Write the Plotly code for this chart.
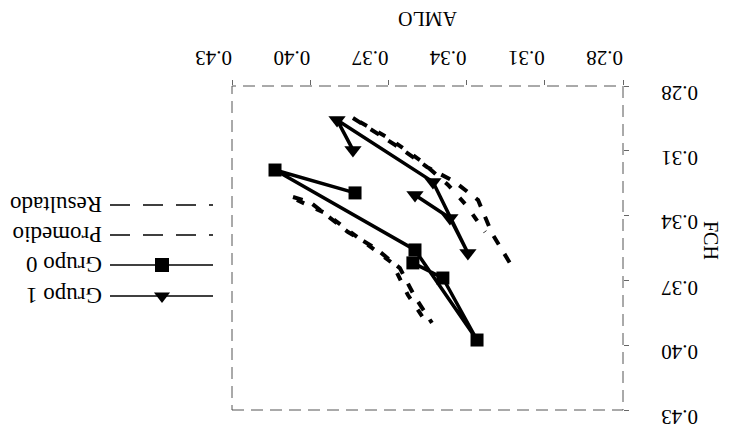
import plotly.graph_objects as go

# ---- data (AMLO on x, FCH on y) ----
tick_vals = [0.28, 0.31, 0.34, 0.37, 0.40, 0.43]
tick_text = ["0.28", "0.31", "0.34", "0.37", "0.40", "0.43"]

g0_amlo = [0.3828, 0.4135, 0.3598, 0.3360, 0.3491, 0.3606]
g0_fch = [0.3295, 0.3189, 0.3559, 0.3976, 0.3689, 0.3619]

g1_amlo = [0.3836, 0.3897, 0.3529, 0.3395, 0.3464, 0.3598]
g1_fch = [0.3096, 0.2957, 0.3244, 0.3573, 0.3411, 0.3305]

prom_amlo = [0.3836, 0.3744, 0.3644, 0.3552, 0.3445, 0.3356, 0.3303, 0.3234, None,
             0.4066, 0.4001, 0.3855, 0.3751, 0.3656, 0.3598, 0.3533]
prom_fch = [0.2948, 0.3018, 0.3096, 0.3175, 0.3244, 0.3328, 0.3481, 0.3619, None,
            0.3314, 0.3337, 0.3476, 0.3550, 0.3643, 0.3777, 0.3897]

res_amlo = [0.3809, 0.3694, 0.3579, 0.3471, 0.3402, 0.3329, None,
            0.4051, 0.3943, 0.3840, 0.3686, 0.3625, 0.3548]
res_fch = [0.2967, 0.3045, 0.3143, 0.3258, 0.3351, 0.3476, None,
           0.3328, 0.3388, 0.3481, 0.3619, 0.3768, 0.3907]

legend_names = ["Resultado", "Promedio", "Grupo 0", "Grupo 1"]
x_title = "AMLO"
y_title = "FCH"

FONT = "Liberation Serif"
W, H = 737, 430
PL, PR, PT, PB = 232, 623, 86, 410  # plot area in pixels

fig = go.Figure()

fig.add_trace(go.Scatter(x=prom_amlo, y=prom_fch, mode="lines",
                         line=dict(color="black", width=4, dash="10px,11px"),
                         showlegend=False, hoverinfo="skip"))
fig.add_trace(go.Scatter(x=res_amlo, y=res_fch, mode="lines",
                         line=dict(color="black", width=4, dash="8px,13px"),
                         showlegend=False, hoverinfo="skip"))
fig.add_trace(go.Scatter(x=g0_amlo, y=g0_fch, mode="lines+markers",
                         line=dict(color="black", width=3.5),
                         marker=dict(symbol="square", size=13, color="black"),
                         showlegend=False))
fig.add_trace(go.Scatter(x=g1_amlo, y=g1_fch, mode="lines+markers",
                         line=dict(color="black", width=3.5),
                         marker=dict(symbol="triangle-down", size=15, color="black"),
                         showlegend=False))

# ---- custom upside-down legend on an auxiliary axis ----
leg_rows = [205, 235, 265, 296]
leg_styles = [
    dict(dash="20px,13px", symbol=None),
    dict(dash="20px,13px", symbol=None),
    dict(dash="solid", symbol="square"),
    dict(dash="solid", symbol="triangle-down"),
]
for name, row, st in zip(legend_names, leg_rows, leg_styles):
    fig.add_trace(go.Scatter(x=[110, 213], y=[row, row], mode="lines",
                             line=dict(color="black", width=1.6, dash=st["dash"]),
                             xaxis="x2", yaxis="y2", showlegend=False, hoverinfo="skip"))
    if st["symbol"]:
        fig.add_trace(go.Scatter(x=[162], y=[row], mode="markers",
                                 marker=dict(symbol=st["symbol"], size=14, color="black"),
                                 xaxis="x2", yaxis="y2", showlegend=False, hoverinfo="skip"))
    fig.add_annotation(x=104, y=row, xref="x2", yref="y2", text=name, showarrow=False,
                       textangle=180, xanchor="right", yanchor="middle",
                       font=dict(family=FONT, size=23, color="black"))

# y tick labels (upside down, sitting slightly below their ticks)
for v, t in zip(tick_vals, tick_text):
    fig.add_annotation(x=1, y=v, xref="x domain", yref="y", text=t, showarrow=False,
                       textangle=180, xanchor="center", yanchor="middle",
                       xshift=57, yshift=-7,
                       font=dict(family=FONT, size=21, color="black"))

# axis titles (rotated like the rest of the picture)
fig.add_annotation(x=(PL + PR) / 2 / W, y=1 - 6 / H, xref="paper", yref="paper",
                   text=x_title, showarrow=False, textangle=180,
                   font=dict(family=FONT, size=20, color="black"))
fig.add_annotation(x=724 / W, y=1 - 240 / H, xref="paper", yref="paper", text=y_title,
                   showarrow=False, textangle=90,
                   font=dict(family=FONT, size=20, color="black"))

# dashed frame
fig.add_shape(type="rect", xref="x domain", yref="y domain", x0=0, x1=1, y0=0, y1=1,
              line=dict(color="#555555", width=1, dash="12px,7px"), layer="below")

axis_common = dict(tickvals=tick_vals, ticktext=tick_text, tickangle=180,
                   ticks="outside", ticklen=5, tickcolor="#666666", tickwidth=1,
                   showgrid=False, zeroline=False, showline=False, automargin=False,
                   tickfont=dict(family=FONT, size=21, color="black"))

fig.update_layout(
    width=W, height=H, autosize=False,
    margin=dict(l=0, r=0, t=0, b=0),
    paper_bgcolor="white", plot_bgcolor="white",
    showlegend=False,
    xaxis=dict(domain=[PL / W, PR / W], range=[0.43, 0.28], side="top", anchor="y",
               ticklabelstandoff=0, **axis_common),
    yaxis=dict(domain=[1 - PB / H, 1 - PT / H], range=[0.43, 0.28], side="right", anchor="x",
               showticklabels=False, **axis_common),
    xaxis2=dict(domain=[0, 230 / W], range=[0, 230], visible=False, anchor="y2"),
    yaxis2=dict(domain=[0, 1], range=[H, 0], visible=False, anchor="x2"),
)

fig.write_html("out.html", config={"displayModeBar": False},
               post_script="document.body.style.margin='0';document.body.style.overflow='hidden';")
